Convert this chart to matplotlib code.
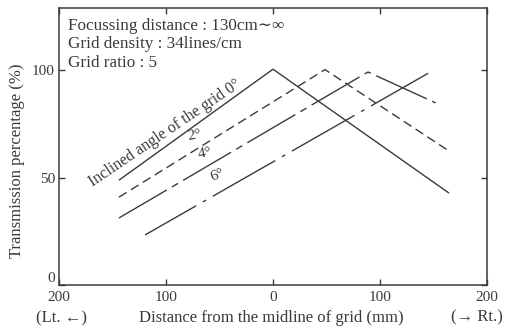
import matplotlib
matplotlib.use("Agg")
import matplotlib.pyplot as plt
import matplotlib.transforms as mtransforms

plt.rcParams['font.family'] = ['Liberation Serif', 'DejaVu Serif']
plt.rcParams['lines.scale_dashes'] = False

# data (mm from midline, transmission %)
x_0deg = [-144, 0, 164.5]
y_0deg = [48.8, 100.5, 42.8]
x_2deg = [-144, 48.6, 166]
y_2deg = [40.9, 100.3, 61.9]
x_4deg = [-144, 88.8, 152]
y_4deg = [31.2, 99.2, 84.8]
x_6deg = [-119.6, 145]
y_6deg = [23.3, 98.6]

x_ticks = [-200, -100, 0, 100, 200]
x_ticklabels = ['200', '100', '0', '100', '200']
y_ticks = [0, 50, 100]
y_ticklabels = ['0', '50', '100']

info_lines = ["Focussing distance : 130cm∼∞",
              "Grid density : 34lines/cm",
              "Grid ratio : 5"]

ink = '#3a3a3a'
fig = plt.figure(figsize=(5.15, 3.30), dpi=100)
ax = fig.add_axes([59/515, 1-285/330, 428/515, 277/330])

lw = 1.0
ax.plot(x_0deg, y_0deg, color=ink, lw=lw, solid_capstyle='butt')
ax.plot(x_2deg, y_2deg, color=ink, lw=lw, linestyle=(0, (6.5, 3.6)))
ax.plot(x_4deg, y_4deg, color=ink, lw=lw, linestyle=(0, (40, 4.3, 5, 4.3)))
ax.plot(x_6deg, y_6deg, color=ink, lw=lw, linestyle=(9.4, (51.8, 5.6, 2.6, 5.6)))

ax.set_xlim(-200, 200)
ax.set_ylim(0, 129)
ax.set_xticks(x_ticks)
ax.set_xticklabels(x_ticklabels)
ax.set_yticks(y_ticks)
ax.set_yticklabels(y_ticklabels)
ax.tick_params(direction='in', length=4, width=1, colors=ink, labelsize=11,
               top=True, right=True, pad=4)
ax.tick_params(axis='y', pad=3)
for s in ax.spines.values():
    s.set_linewidth(1.1)
    s.set_color(ink)

# lift the "0" y tick label clear of the x tick labels, as in the reference
lbl0 = ax.get_yticklabels()[0]
lbl0.set_transform(lbl0.get_transform() +
                   mtransforms.ScaledTranslation(0, 6/72, fig.dpi_scale_trans))

for i, t in enumerate(info_lines):
    ax.text(0.021, [0.9206, 0.8538, 0.787][i], t, transform=ax.transAxes,
            fontsize=12.3, color=ink, va='baseline', ha='left')

ax.text(-168.2, 45.6, "Inclined angle of the grid 0°", rotation=34,
        rotation_mode='anchor', ha='left', va='baseline', fontsize=11.5, color=ink)
ax.text(-72.9, 69.5, "2°", rotation=10, rotation_mode='anchor',
        ha='center', va='center', fontsize=11, color=ink)
ax.text(-63.6, 61.5, "4°", rotation=10, rotation_mode='anchor',
        ha='center', va='center', fontsize=11, color=ink)
ax.text(-51.5, 51.2, "6°", rotation=22, rotation_mode='anchor',
        ha='center', va='center', fontsize=11, color=ink)

ax.set_ylabel("Transmission percentage (%)", fontsize=12, color=ink)
ax.yaxis.set_label_coords(-0.08, 0.45)
fig.text(271/515, 1-318/330, "Distance from the midline of grid (mm)",
         ha='center', va='center', fontsize=12, color=ink)
fig.text(61/515, 1-318/330, "(Lt. ←)", ha='center', va='center', fontsize=12, color=ink)
fig.text(477/515, 1-317/330, "(→ Rt.)", ha='center', va='center', fontsize=12, color=ink)

fig.savefig("out.png", dpi=100)
